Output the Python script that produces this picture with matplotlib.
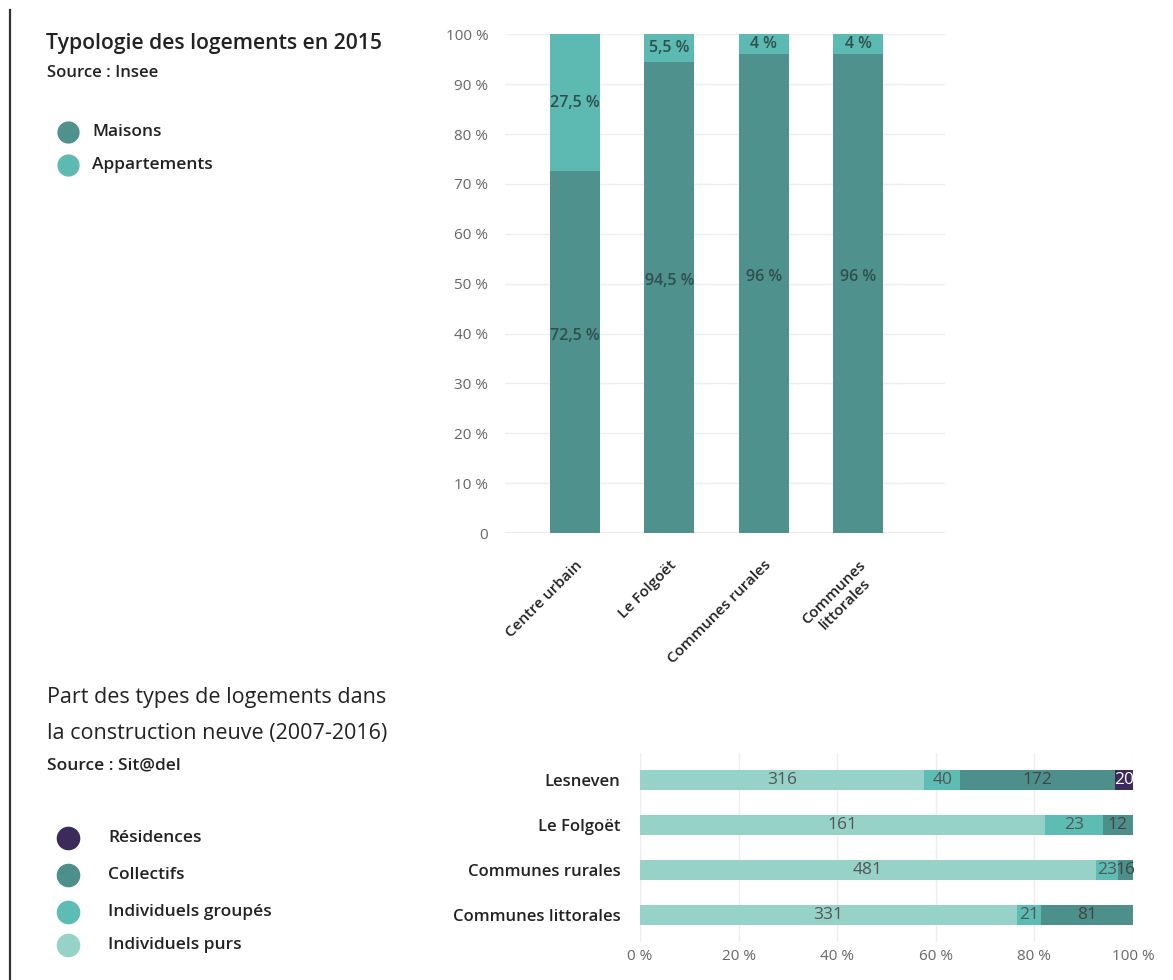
import matplotlib.pyplot as plt
import matplotlib.transforms as mtransforms
import numpy as np

plt.rcParams['font.family'] = ['Open Sans', 'DejaVu Sans']

# Typologie des logements en 2015 (en %)
zones = ['Centre urbain', 'Le Folgoët', 'Communes rurales', 'Communes\nlittorales']
maisons = [72.5, 94.5, 96, 96]
appartements = [27.5, 5.5, 4, 4]
maisons_lbl = ['72,5 %', '94,5 %', '96 %', '96 %']
appart_lbl = ['27,5 %', '5,5 %', '4 %', '4 %']

# Construction neuve 2007-2016 (nombre de logements)
communes = ['Lesneven', 'Le Folgoët', 'Communes rurales', 'Communes littorales']
ind_purs = [316, 161, 481, 331]
ind_groupes = [40, 23, 23, 21]
collectifs = [172, 12, 16, 81]
residences = [20, 0, 0, 0]

c_maisons = '#4f918c'
c_appart = '#5dbab2'
c_purs = '#96d2c8'
c_groupes = '#5dbcb3'
c_collectifs = '#4d8f8b'
c_residences = '#3b2a5a'

fig = plt.figure(figsize=(11.73, 9.8), dpi=100)

# cadre de gauche
fig.add_artist(plt.Line2D([0.0085, 0.0085], [0.0, 0.99], color='#333333', lw=1.6))

# --- graphique du haut ---
ax1 = fig.add_axes([0.4305, 0.456, 0.375, 0.509])
x = np.arange(len(zones))
w = 0.53
ax1.bar(x, maisons, w, color=c_maisons, zorder=2)
ax1.bar(x, appartements, w, bottom=maisons, color=c_appart, zorder=2)
for i in range(len(zones)):
    ax1.annotate(maisons_lbl[i], (x[i], maisons[i] / 2), xytext=(0, 12), textcoords='offset points',
                 ha='center', va='center', fontsize=11.5, color='#2f4f4c', fontweight='semibold', zorder=3)
    ax1.text(x[i], maisons[i] + appartements[i] / 2, appart_lbl[i], ha='center', va='center',
             fontsize=11.5, color='#2f4f4c', fontweight='semibold', zorder=3)
ax1.set_xlim(-0.74, 3.92)
ax1.set_ylim(0, 100)
ax1.set_yticks(np.arange(0, 101, 10))
ax1.set_yticklabels(['0'] + ['%d %%' % v for v in range(10, 101, 10)], color='#666666', fontsize=11)
ax1.set_xticks(x)
ax1.set_xticklabels(zones, rotation=45, ha='right', rotation_mode='anchor', fontsize=11,
                    color='#222222', fontweight='semibold', multialignment='center')
shift = mtransforms.ScaledTranslation(14 / 100, 0, fig.dpi_scale_trans)
for lab in ax1.get_xticklabels():
    lab.set_transform(lab.get_transform() + shift)
ax1.grid(axis='y', color='#eeeeee', lw=1, zorder=0)
ax1.tick_params(length=0, pad=12)
ax1.tick_params(axis='x', pad=18)
for s in ax1.spines.values():
    s.set_visible(False)
ax1.axhline(0, color='#e6e6e6', lw=1.2, zorder=1)

# --- graphique du bas (empilé en %) ---
ax2 = fig.add_axes([0.5456, 0.0388, 0.4203, 0.193])
series = [(ind_purs, c_purs, '#555555'), (ind_groupes, c_groupes, '#555555'),
          (collectifs, c_collectifs, '#444444'), (residences, c_residences, 'white')]
totals = np.sum([ind_purs, ind_groupes, collectifs, residences], axis=0)
y = np.arange(len(communes))
left = np.zeros(len(communes))
for vals, col, tcol in series:
    pct = np.array(vals) / totals * 100
    ax2.barh(y, pct, 0.44, left=left, color=col, zorder=2)
    for j in range(len(communes)):
        if vals[j] > 0:
            ax2.text(left[j] + pct[j] / 2, y[j], str(vals[j]), ha='center', va='center',
                     fontsize=12.5, color=tcol, zorder=3)
    left += pct
ax2.set_xlim(0, 100)
ax2.set_ylim(3.6, -0.6)
ax2.set_xticks(np.arange(0, 101, 20))
ax2.set_xticklabels(['%d %%' % v for v in range(0, 101, 20)], color='#666666', fontsize=11)
ax2.set_yticks(y)
ax2.set_yticklabels(communes, fontsize=12, color='#222222', fontweight='semibold')
ax2.grid(axis='x', color='#eeeeee', lw=1, zorder=0)
ax2.tick_params(length=0)
ax2.tick_params(axis='x', pad=5)
ax2.tick_params(axis='y', pad=14)
for s in ax2.spines.values():
    s.set_visible(False)

# --- titres et légendes ---
def px(xp, yp):
    return xp / 1173, 1 - yp / 980

fig.text(*px(46, 43), 'Typologie des logements en 2015', fontsize=15.2, fontweight='semibold',
         color='#222222', va='center')
fig.text(*px(47, 73), 'Source : Insee', fontsize=12, fontweight='semibold', color='#222222', va='center')
for yy, lab, col in [(132, 'Maisons', c_maisons), (165, 'Appartements', c_appart)]:
    fig.add_artist(plt.Line2D([px(68, 0)[0]], [px(0, yy)[1]], marker='o', ms=15, color=col, lw=0))
    fig.text(*px(92, yy), lab, fontsize=12.5, fontweight='semibold', color='#222222', va='center')

fig.text(*px(47, 697), 'Part des types de logements dans', fontsize=15.5, color='#222222', va='center')
fig.text(*px(47, 733), 'la construction neuve (2007-2016)', fontsize=15.5, color='#222222', va='center')
fig.text(*px(47, 765), 'Source : Sit@del', fontsize=12.5, fontweight='semibold', color='#222222', va='center')
for yy, lab, col in [(838, 'Résidences', c_residences), (875, 'Collectifs', c_collectifs),
                     (912, 'Individuels groupés', c_groupes), (945, 'Individuels purs', c_purs)]:
    fig.add_artist(plt.Line2D([px(68, 0)[0]], [px(0, yy)[1]], marker='o', ms=16, color=col, lw=0))
    fig.text(*px(108, yy), lab, fontsize=12.5, fontweight='semibold', color='#222222', va='center')

fig.savefig('out.png', dpi=100)
